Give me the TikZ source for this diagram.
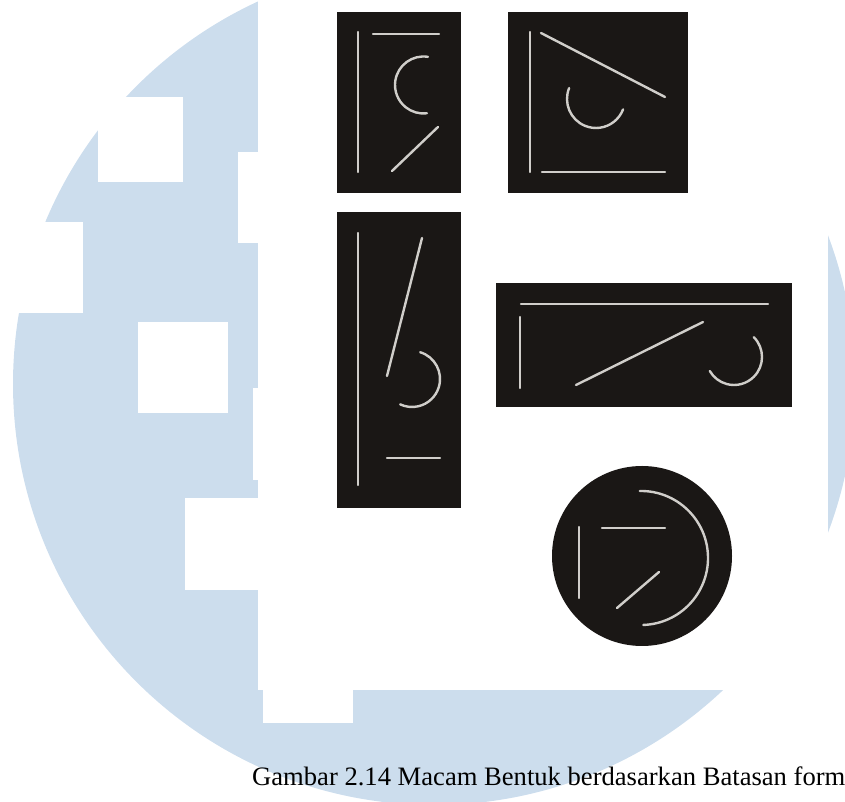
\documentclass[tikz,border=0pt]{standalone}
\usepackage{fontspec}
\setmainfont{Liberation Serif}
\usepackage{tikz}
\definecolor{clogo}{HTML}{CCDDED}
\definecolor{cbox}{HTML}{1A1715}
\definecolor{cline}{HTML}{D0CECA}
\tikzset{
  logo/.style={fill=clogo, draw=none},
  cut/.style={fill=white, draw=none},
  panel/.style={fill=cbox, draw=none},
  gline/.style={draw=cline, line width=2.4pt, line cap=round}
}

\begin{document}
\begin{tikzpicture}[x=1pt, y=1pt]
\useasboundingbox (0,0) rectangle (845,802);
\clip (0,0) rectangle (845,802);
% watermark
\fill[logo] (434,418) circle[radius=421];
\fill[cut] (258,112) rectangle (828,810);
\fill[cut] (238,559) rectangle (259,650);
\fill[cut] (253,322) rectangle (259,414);
\fill[cut] (185,212) rectangle (259,304);
\fill[cut] (263,79) rectangle (353,113);
\fill[cut] (98,620) rectangle (183,705);
\fill[cut] (-5,489) rectangle (83,580);
\fill[cut] (138,389) rectangle (228,480);
% shape 1
\fill[panel] (337,609) rectangle (461,790);
\draw[gline] (358,630) -- (358,770);
\draw[gline] (373,768) -- (439,768);
\draw[gline] (423.5,717) ++(81:28.5) arc[start angle=81, end angle=277, radius=28.5];
\draw[gline] (438,675) -- (392,631);
% shape 2
\fill[panel] (508,609) rectangle (688,790);
\draw[gline] (530,630) -- (530,770);
\draw[gline] (541,769) -- (665,705);
\draw[gline] (542,630) -- (665,630);
\draw[gline] (596,703) ++(158:29) arc[start angle=158, end angle=339, radius=29];
% shape 3
\fill[panel] (337,294) rectangle (461,590);
\draw[gline] (358,317) -- (358,569);
\draw[gline] (422,564) -- (387,426);
\draw[gline] (412,423) ++(73:28) arc[start angle=73, end angle=-115, radius=28];
\draw[gline] (387,344) -- (440,344);
% shape 4
\fill[panel] (496,395) rectangle (792,519);
\draw[gline] (521,498) -- (768,498);
\draw[gline] (520,414) -- (520,485);
\draw[gline] (576,417) -- (703,480);
\draw[gline] (734,445) ++(45:28) arc[start angle=45, end angle=-150, radius=28];
% shape 5
\fill[panel] (642,246) circle[radius=90];
\draw[gline] (579,204) -- (579,275);
\draw[gline] (602,274) -- (665,274);
\draw[gline] (659,230) -- (617,194);
\draw[gline] (641,244) ++(91:67) arc[start angle=91, end angle=-88, radius=67];
% caption
\node[anchor=base west, inner sep=0pt, font=\fontsize{26.6}{30}\selectfont] (caption) at (252,16)
  {Gambar 2.14 Macam Bentuk berdasarkan Batasan form};
\end{tikzpicture}
\end{document}
